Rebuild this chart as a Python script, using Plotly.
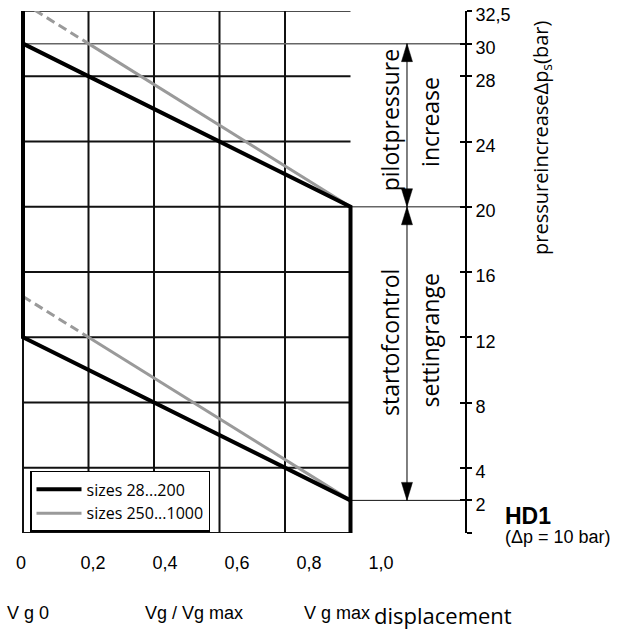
import plotly.graph_objects as go

# ---- data -------------------------------------------------------------
# displacement ratio Vg/Vgmax (x) and pilot pressure increase in bar (y)
ratio_ticks = [0, 0.2, 0.4, 0.6, 0.8, 1.0]
ratio_labels = ["0", "0,2", "0,4", "0,6", "0,8", "1,0"]
pressure_ticks = [0, 2, 4, 8, 12, 16, 20, 24, 28, 30, 32]
label_ticks = [2, 4, 8, 12, 16, 20, 24, 28, 30, 32]
pressure_labels = ["2", "4", "8", "12", "16", "20", "24", "28", "30", "32,5"]
grid_x = [0.2, 0.4, 0.6, 0.8]
grid_y = [4, 8, 12, 16, 20, 24, 28]

# sizes 28...200: control band (upper/lower limit) and its borders
small_x = [0, 1.0, 1.0, None, 0, 0, 1.0]
small_y = [30, 20, 0, None, 32, 12, 2]

# sizes 250...1000: solid part and dashed extension towards Vg0
large_x = [0.2, 1.0, None, 0.2, 1.0]
large_y = [30, 20, None, 12, 2]
large_ext_x = [0, 0.2, None, 0, 0.2]
large_ext_y = [32.5, 30, None, 14.5, 12]

# pressure ranges marked with double arrows (bar)
pilot_range = [20, 30]
start_range = [2, 20]

# ---- geometry ---------------------------------------------------------
W, H = 619, 629
ML, MR, MT, MB = 15, 154, 11, 96
PW, PH = W - ML - MR, H - MT - MB
PX_PER_X = 327.5
X0 = -8 / PX_PER_X
X1 = X0 + PW / PX_PER_X
Y_MAX = 32
PX_PER_Y = PH / Y_MAX
LABEL_DROP = 4 / PX_PER_Y   # tick labels sit a little below their ticks

ARROW_X = 1.1725
HEAD_LEN = 18 / PX_PER_Y
HEAD_HW = 5.5 / PX_PER_X

fig = go.Figure()

# sizes 250...1000
fig.add_trace(go.Scatter(x=large_ext_x, y=large_ext_y, mode="lines",
                         line=dict(color="#9a9a9a", width=3, dash="9px,5px"),
                         showlegend=False, hoverinfo="skip", cliponaxis=True))
fig.add_trace(go.Scatter(x=large_x, y=large_y, mode="lines", name="sizes 250...1000",
                         line=dict(color="#9a9a9a", width=3), legendrank=2,
                         hoverinfo="skip"))
# sizes 28...200
fig.add_trace(go.Scatter(x=small_x, y=small_y, mode="lines", name="sizes 28...200",
                         line=dict(color="black", width=4), legendrank=1,
                         hoverinfo="skip"))


def arrow(lo, hi):
    # shaft
    fig.add_trace(go.Scatter(x=[ARROW_X, ARROW_X], y=[lo, hi], mode="lines",
                             line=dict(color="black", width=1),
                             showlegend=False, hoverinfo="skip"))
    # heads
    for tip, d in ((hi, -1), (lo, 1)):
        fig.add_trace(go.Scatter(
            x=[ARROW_X, ARROW_X - HEAD_HW, ARROW_X + HEAD_HW, ARROW_X],
            y=[tip, tip + d * HEAD_LEN, tip + d * HEAD_LEN, tip],
            mode="lines", fill="toself", fillcolor="black",
            line=dict(color="black", width=0.5),
            showlegend=False, hoverinfo="skip"))


arrow(*pilot_range)
arrow(*start_range)

# helper traces so the secondary axes are rendered
for xa, ya in (("x2", "y"), ("x", "y2"), ("x", "y3")):
    fig.add_trace(go.Scatter(x=[0.5], y=[1], xaxis=xa, yaxis=ya, mode="markers",
                             marker=dict(opacity=0), showlegend=False,
                             hoverinfo="skip"))

shapes = []
# grid
for gx in grid_x:
    shapes.append(dict(type="line", xref="x", yref="y", x0=gx, x1=gx, y0=0, y1=Y_MAX,
                       line=dict(color="#111", width=2), layer="below"))
for gy in grid_y:
    shapes.append(dict(type="line", xref="x", yref="y", x0=0, x1=1.0, y0=gy, y1=gy,
                       line=dict(color="#111", width=2), layer="below"))
# frame
shapes.append(dict(type="line", xref="x", yref="y", x0=0, x1=1.0, y0=0, y1=0,
                   line=dict(color="#111", width=2), layer="below"))
shapes.append(dict(type="line", xref="x", yref="y", x0=0, x1=1.0, y0=Y_MAX, y1=Y_MAX,
                   line=dict(color="#111", width=1.5), layer="below"))
shapes.append(dict(type="line", xref="x", yref="y", x0=0, x1=0, y0=0, y1=Y_MAX,
                   line=dict(color="#111", width=2), layer="below"))
# reference lines out to the pressure scale
shapes.append(dict(type="line", xref="x", yref="y", x0=0, x1=X1, y0=pilot_range[1],
                   y1=pilot_range[1], line=dict(color="#666", width=1.5), layer="below"))
shapes.append(dict(type="line", xref="x", yref="y", x0=1.0, x1=X1, y0=pilot_range[0],
                   y1=pilot_range[0], line=dict(color="#666", width=1.5), layer="below"))
shapes.append(dict(type="line", xref="x", yref="y", x0=1.0, x1=X1, y0=start_range[0],
                   y1=start_range[0], line=dict(color="#111", width=1), layer="below"))

SANS = "Liberation Sans, Arial, sans-serif"
HUMAN = "Open Sans, sans-serif"


def note(x, y, text, size, family, ref="paper", angle=0, xa="center", ya="middle"):
    return dict(x=x, y=y, xref="x" if ref == "data" else "paper",
                yref="y" if ref == "data" else "paper",
                text=text, textangle=angle, xanchor=xa, yanchor=ya, showarrow=False,
                font=dict(family=family, size=size, color="black"))


annotations = [
    note(1.1206, 25.3, "pilotpressure", 23, HUMAN, ref="data", angle=-90),
    note(1.2427, 25.2, "increase", 23, HUMAN, ref="data", angle=-90),
    note(1.1206, 11.65, "startofcontrol", 23, HUMAN, ref="data", angle=-90),
    note(1.2427, 11.8, "settingrange", 23, HUMAN, ref="data", angle=-90),
    note((541 - ML) / PW, (533 - 138) / PH, "pressureincreaseΔp<sub>s</sub>(bar)",
         20, HUMAN, angle=-90),
    note((503 - ML) / PW, (533 - 516) / PH, "<b>HD1</b>", 23, SANS, xa="left"),
    note((503 - ML) / PW, (533 - 537) / PH, "(Δp = 10 bar)", 18, SANS, xa="left"),
    note((5 - ML) / PW, (533 - 613) / PH, "V g 0", 18, SANS, xa="left"),
    note((194 - ML) / PW, (533 - 613) / PH, "Vg / Vg max", 18, SANS),
    note((302 - ML) / PW, (533 - 613) / PH, "V g max", 18, SANS, xa="left"),
    note((372 - ML) / PW, (533 - 615) / PH, "displacement", 22, HUMAN, xa="left"),
]

tick_style = dict(ticks="outside", ticklen=5, tickwidth=1.5, tickcolor="black")

fig.update_layout(
    width=W, height=H,
    margin=dict(l=ML, r=MR, t=MT, b=MB, pad=0, autoexpand=False),
    paper_bgcolor="white", plot_bgcolor="white",
    showlegend=True,
    legend=dict(x=(30 - ML) / PW, y=0.002, xanchor="left", yanchor="bottom",
                bgcolor="white", bordercolor="black", borderwidth=1.5,
                font=dict(family=HUMAN, size=16, color="black"),
                tracegroupgap=0, itemwidth=45),
    xaxis=dict(range=[X0, X1], visible=False, fixedrange=True, automargin=False),
    xaxis2=dict(overlaying="x", anchor="y", side="bottom", automargin=False,
                range=[-6 / 360, -6 / 360 + PW / 360],
                tickvals=ratio_ticks, ticktext=ratio_labels,
                showgrid=False, zeroline=False, showline=False, ticks="",
                ticklabelstandoff=17,
                tickfont=dict(family=SANS, size=18, color="black")),
    # pressure scale: line and outward ticks
    yaxis=dict(range=[0, Y_MAX], side="right", anchor="x", automargin=False,
               tickvals=pressure_ticks, showticklabels=False,
               showgrid=False, zeroline=False, showline=True,
               linecolor="black", linewidth=1.5, **tick_style),
    # inward half of the crossing ticks
    yaxis2=dict(range=[0, Y_MAX], overlaying="y", side="right", anchor="x",
                automargin=False,
                tickvals=pressure_ticks, showticklabels=False,
                showgrid=False, zeroline=False, showline=False,
                ticks="inside", ticklen=5, tickwidth=1.5, tickcolor="black"),
    # tick labels of the pressure scale
    yaxis3=dict(range=[LABEL_DROP, Y_MAX + LABEL_DROP], overlaying="y", side="right",
                anchor="x", automargin=False,
                tickvals=label_ticks, ticktext=pressure_labels,
                showgrid=False, zeroline=False, showline=False,
                ticks="outside", ticklen=5, tickcolor="rgba(0,0,0,0)",
                ticklabelstandoff=1,
                tickfont=dict(family=SANS, size=18, color="black")),
    shapes=shapes,
    annotations=annotations,
)

fig.write_html("out.html")
